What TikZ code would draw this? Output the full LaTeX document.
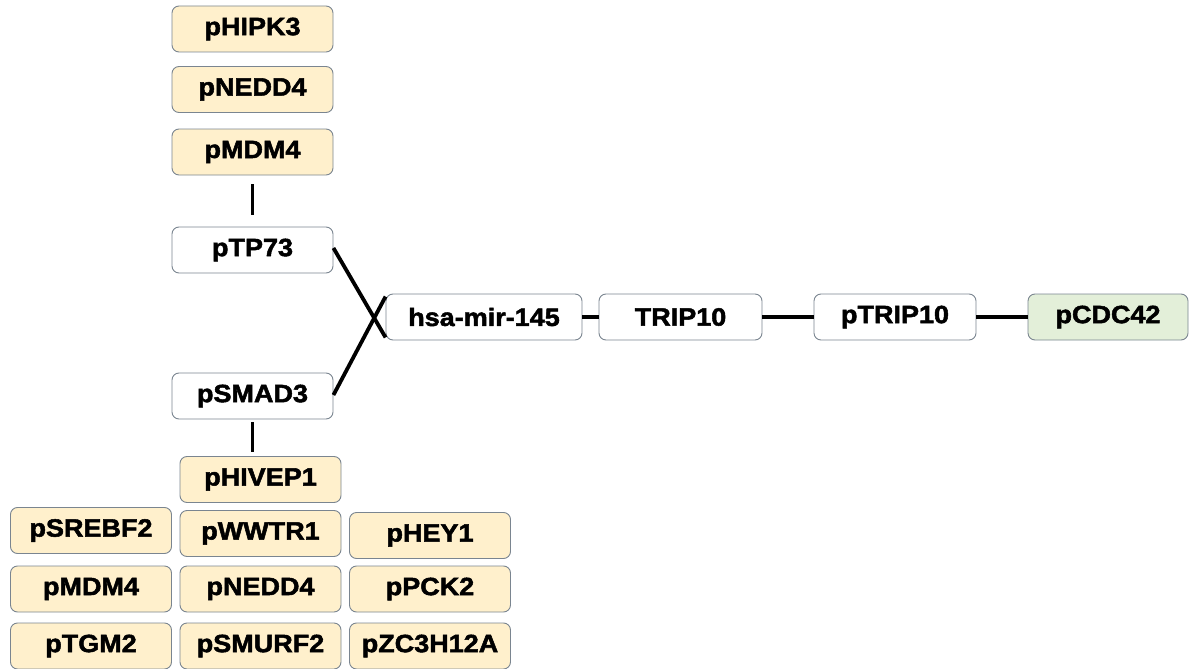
\documentclass[tikz,border=0pt]{standalone}
\usepackage{fontspec}
\setmainfont{Liberation Sans}[BoldFeatures={FakeBold=2,FakeStretch=1.08}]
\definecolor{boxline}{HTML}{7A8590}
\definecolor{beige}{HTML}{FFF0CC}
\definecolor{leaf}{HTML}{E3EFD9}
\begin{document}
\begin{tikzpicture}[x=1pt,y=-1pt,
  gene/.style={draw=boxline, line width=0.9pt, rounded corners=7pt, fill=white,
    minimum width=161pt, minimum height=46pt, inner sep=0pt,
    font=\fontsize{25}{28}\selectfont\bfseries},
  beigebox/.style={gene, fill=beige},
  greenbox/.style={gene, fill=leaf},
  link/.style={line width=3.8pt, black}]
\useasboundingbox (0,0) rectangle (1189,669);
% top column
\node[beigebox] (hipk3) at (252.5,29) {pHIPK3};
\node[beigebox] (nedd4a) at (252.5,89.5) {pNEDD4};
\node[beigebox] (mdm4a) at (252.5,152) {pMDM4};
\node[gene] (tp73) at (252.5,250) {pTP73};
\node[gene] (smad3) at (252.5,396) {pSMAD3};
% main row
\node[gene, minimum width=196pt] (mir) at (484,317) {hsa-mir-145};
\node[gene, minimum width=163pt] (trip) at (680.5,317) {TRIP10};
\node[gene, minimum width=162pt] (ptrip) at (895,317) {pTRIP10};
\node[greenbox, minimum width=160pt] (cdc42) at (1108,317) {pCDC42};
% bottom grid
\node[beigebox] (hivep1) at (260.5,479.5) {pHIVEP1};
\node[beigebox] (srebf2) at (91,530.5) {pSREBF2};
\node[beigebox] (wwtr1) at (260.5,533.5) {pWWTR1};
\node[beigebox] (hey1) at (430,535.5) {pHEY1};
\node[beigebox] (mdm4b) at (91,589) {pMDM4};
\node[beigebox] (nedd4b) at (260.5,589) {pNEDD4};
\node[beigebox] (pck2) at (430,589) {pPCK2};
\node[beigebox] (tgm2) at (91,646) {pTGM2};
\node[beigebox] (smurf2) at (260.5,646) {pSMURF2};
\node[beigebox] (zc3h12a) at (430,646) {pZC3H12A};
% connectors
\draw[link, shorten <=9pt, shorten >=12pt] (mdm4a.south) -- (tp73.north);
\draw[link, shorten <=3pt, shorten >=4pt] (smad3.south) -- ([xshift=-8pt]hivep1.north);
\draw[link] ([yshift=2pt]tp73.east) -- ([yshift=3pt]mir.south west);
\draw[link] ([yshift=1pt]smad3.east) -- ([yshift=-3pt]mir.north west);
\draw[link] (mir.east) -- (trip.west);
\draw[link] (trip.east) -- (ptrip.west);
\draw[link] (ptrip.east) -- (cdc42.west);
\end{tikzpicture}
\end{document}
